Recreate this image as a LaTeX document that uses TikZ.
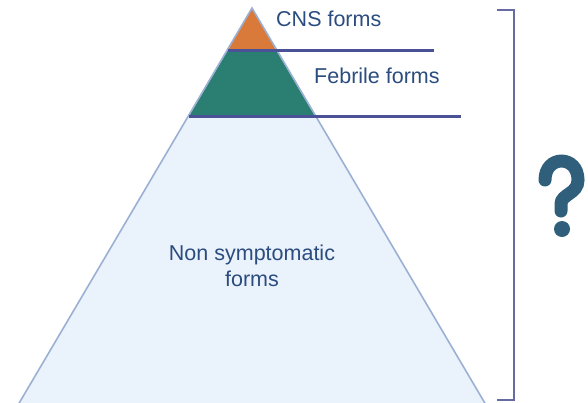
\documentclass[tikz,border=0pt]{standalone}
\usepackage{fontspec}
\setmainfont{Liberation Sans}
\definecolor{cnsorange}{HTML}{D97A3A}
\definecolor{febteal}{HTML}{2A7F72}
\definecolor{baseblue}{HTML}{EAF2FB}
\definecolor{edgeblue}{HTML}{9CB0D4}
\definecolor{linecol}{HTML}{4B5196}
\definecolor{txtcol}{HTML}{2B4C7E}
\definecolor{qcol}{HTML}{2F5F7A}
\tikzset{
  lbl/.style={text=txtcol, font=\fontsize{21.5}{26}\selectfont, inner sep=0pt},
  levelline/.style={draw=linecol, line width=3pt},
  bracketline/.style={draw=linecol!85, line width=2pt},
}
\begin{document}
\begin{tikzpicture}[x=1pt, y=-1pt]
\useasboundingbox (0,0) rectangle (588,402);
\begin{scope}
\clip (0,0) rectangle (588,402);
% pyramid coordinates
\coordinate (apex) at (252,8);
\coordinate (bl) at (18,405);
\coordinate (br) at (486,405);
\coordinate (l1) at (228,50);
\coordinate (r1) at (276,50);
\coordinate (l2) at (189,116);
\coordinate (r2) at (315,116);
% layers
\fill[baseblue] (l2) -- (r2) -- (br) -- (bl) -- cycle;
\fill[febteal] (l1) -- (r1) -- (r2) -- (l2) -- cycle;
\fill[cnsorange] (apex) -- (r1) -- (l1) -- cycle;
\draw[edgeblue, line width=1.6pt] (bl) -- (apex) -- (br);
% level lines
\coordinate (e1) at (434,50);
\coordinate (e2) at (461,116);
\draw[levelline] (l1) -- (e1);
\draw[levelline] (l2) -- (e2);
% bracket
\coordinate (bt0) at (497,10);
\coordinate (bt1) at (514,10);
\coordinate (bb1) at (514,400);
\coordinate (bb0) at (497,400);
\draw[bracketline] (bt0) -- (bt1) -- (bb1) -- (bb0);
\end{scope}
% labels
\node[lbl, anchor=west] (cns) at (276,19) {CNS forms};
\node[lbl, anchor=west] (feb) at (314,76) {Febrile forms};
\node[lbl, align=center] (non) at (252,266) {Non symptomatic\\forms};
% question mark
\draw[qcol, line width=13pt, line cap=round]
  (545,180) .. controls (545,154.7) and (578,154.7) .. (578,180)
  .. controls (578,194) and (561,194) .. (561,204) -- (561,211);
\fill[qcol] (562,229) circle (8);
\end{tikzpicture}
\end{document}
